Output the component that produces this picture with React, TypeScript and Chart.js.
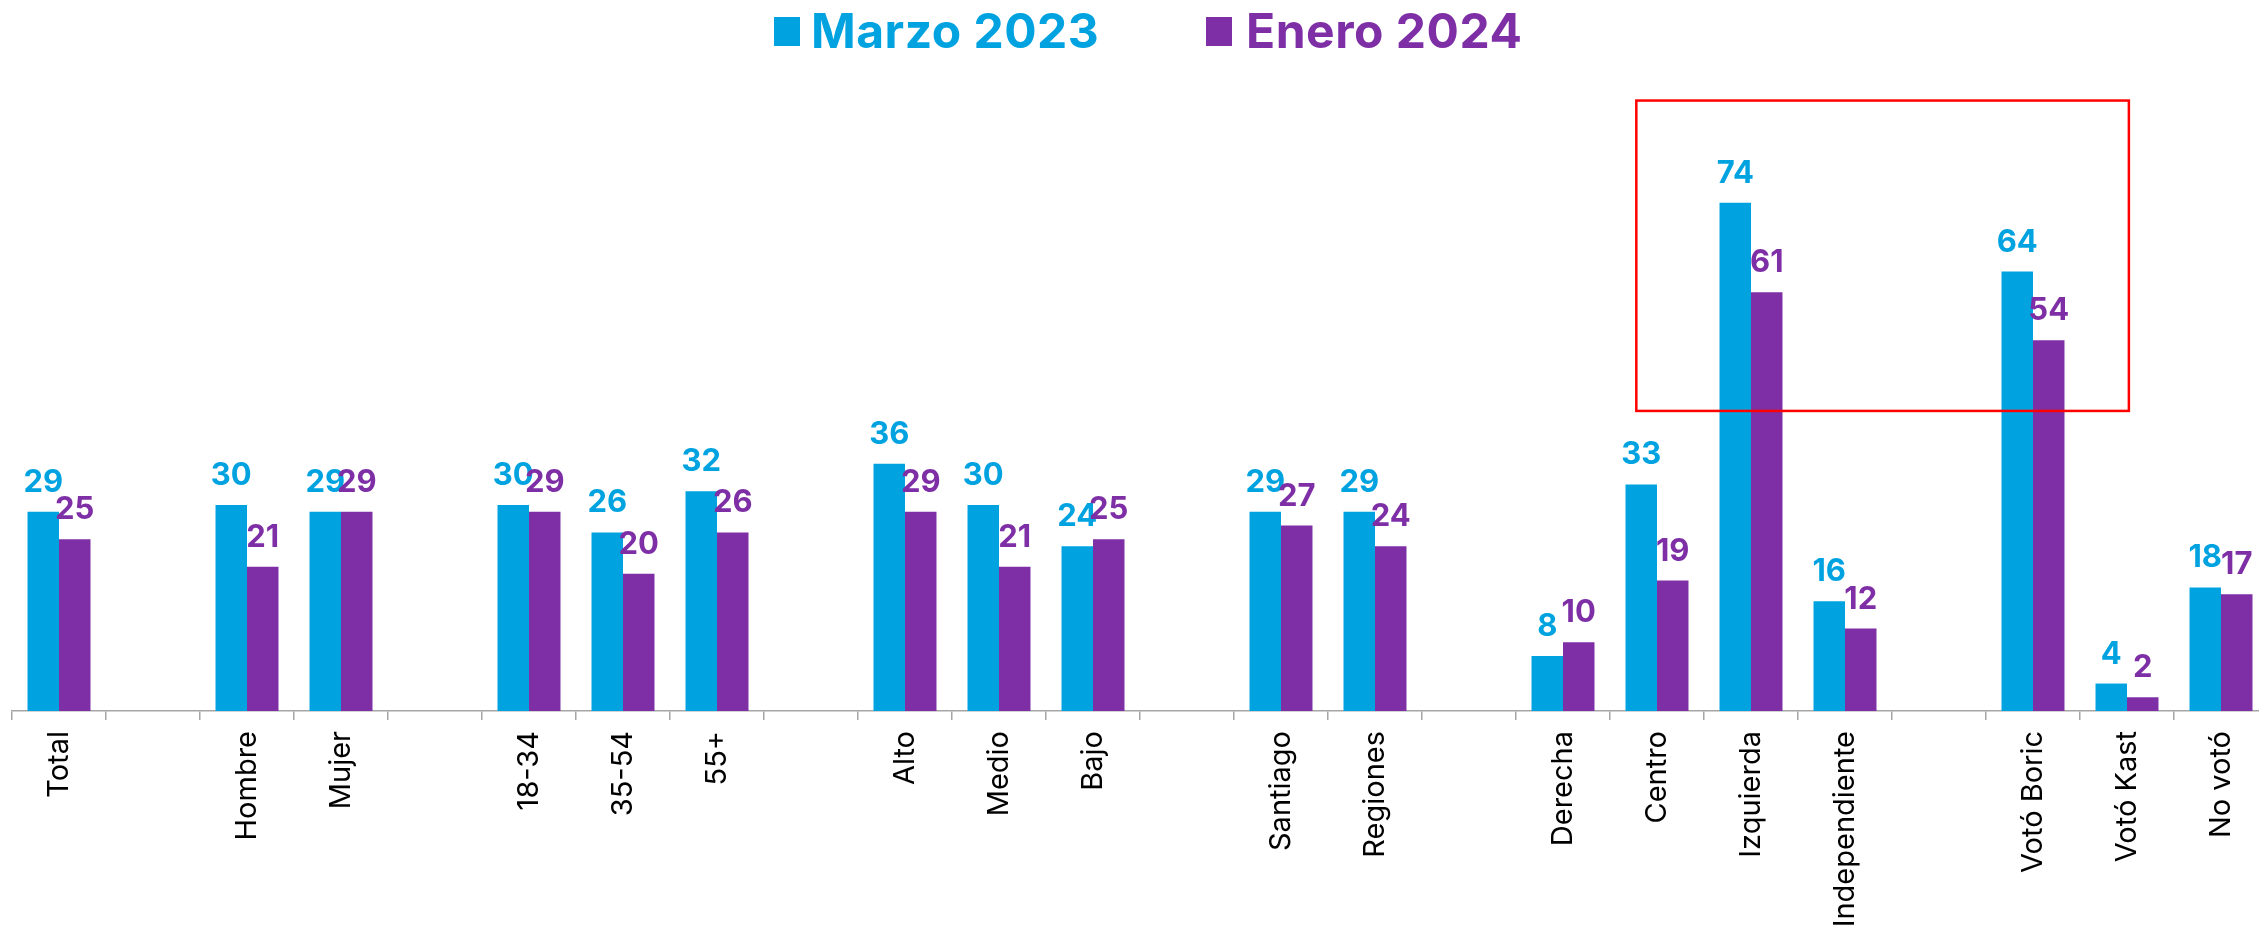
import React, { useEffect, useRef } from "react";
import { Chart, registerables } from "chart.js";

Chart.register(...registerables);

const categories = [
  "Total", "",
  "Hombre", "Mujer", "",
  "18-34", "35-54", "55+", "",
  "Alto", "Medio", "Bajo", "",
  "Santiago", "Regiones", "",
  "Derecha", "Centro", "Izquierda", "Independiente", "",
  "Votó Boric", "Votó Kast", "No votó",
];

const marzo2023 = [29, null, 30, 29, null, 30, 26, 32, null, 36, 30, 24, null, 29, 29, null, 8, 33, 74, 16, null, 64, 4, 18];
const enero2024 = [25, null, 21, 29, null, 29, 20, 26, null, 29, 21, 25, null, 27, 24, null, 10, 19, 61, 12, null, 54, 2, 17];

const seriesNames = ["Marzo 2023", "Enero 2024"];
const seriesColors = ["#00A3E0", "#7E2FA6"];

// highlight box in data coordinates (category index / value)
const highlightIndexRange = [16.78, 22.02];
const highlightValueRange = [43.7, 88.9];

const FONT = "Inter, 'Open Sans', sans-serif";

const valueLabels = {
  id: "valueLabels",
  afterDatasetsDraw(chart: any) {
    const ctx = chart.ctx;
    ctx.save();
    ctx.font = `700 31px ${FONT}`;
    ctx.textAlign = "center";
    ctx.textBaseline = "alphabetic";
    chart.data.datasets.forEach((ds: any, di: number) => {
      const meta = chart.getDatasetMeta(di);
      ctx.fillStyle = ds.backgroundColor;
      meta.data.forEach((bar: any, i: number) => {
        const v = ds.data[i];
        if (v === null || v === undefined) return;
        ctx.fillText(String(v), bar.x, bar.y - 20);
      });
    });
    ctx.restore();
  },
};

const highlightBox = {
  id: "highlightBox",
  afterDatasetsDraw(chart: any) {
    const { ctx, scales } = chart;
    const x1 = scales.x.getPixelForValue(highlightIndexRange[0]);
    const x2 = scales.x.getPixelForValue(highlightIndexRange[1]);
    const y1 = scales.y.getPixelForValue(highlightValueRange[1]);
    const y2 = scales.y.getPixelForValue(highlightValueRange[0]);
    ctx.save();
    ctx.strokeStyle = "#FF0000";
    ctx.lineWidth = 2.5;
    ctx.strokeRect(x1, y1, x2 - x1, y2 - y1);
    ctx.restore();
  },
};

export default function App() {
  const canvasRef = useRef<HTMLCanvasElement | null>(null);

  useEffect(() => {
    if (!canvasRef.current) return;
    const chart = new Chart(canvasRef.current, {
      type: "bar",
      data: {
        labels: categories,
        datasets: [
          {
            label: seriesNames[0],
            data: marzo2023,
            backgroundColor: seriesColors[0],
            borderWidth: 0,
            categoryPercentage: 0.67,
            barPercentage: 1.0,
          },
          {
            label: seriesNames[1],
            data: enero2024,
            backgroundColor: seriesColors[1],
            borderWidth: 0,
            categoryPercentage: 0.67,
            barPercentage: 1.0,
          },
        ],
      },
      options: {
        animation: false,
        responsive: true,
        maintainAspectRatio: false,
        layout: { padding: { top: 93, left: 12, right: 0, bottom: 0 } },
        plugins: {
          legend: { display: false },
          tooltip: { enabled: false },
        },
        scales: {
          x: {
            grid: {
              display: true,
              drawOnChartArea: false,
              drawTicks: true,
              tickLength: 9,
              color: "#A6A6A6",
              lineWidth: 1.5,
              offset: true,
            },
            border: { display: true, color: "#A6A6A6", width: 1.5 },
            ticks: {
              autoSkip: false,
              maxRotation: 90,
              minRotation: 90,
              padding: 11,
              color: "#000000",
              font: { family: FONT, size: 29, weight: "400" },
            },
            afterFit: (scale: any) => {
              scale.height = 226;
            },
          },
          y: {
            display: false,
            min: 0,
            max: 90,
          },
        },
      },
      plugins: [valueLabels, highlightBox],
    } as any);
    return () => chart.destroy();
  }, []);

  const legendText: React.CSSProperties = {
    position: "absolute",
    top: 7,
    fontFamily: FONT,
    fontWeight: 700,
    fontSize: 48,
    lineHeight: "48px",
    letterSpacing: "0.5px",
    whiteSpace: "nowrap",
  };
  const legendBox: React.CSSProperties = {
    position: "absolute",
    top: 17,
    width: 26,
    height: 29,
  };

  return (
    <div style={{ position: "absolute", left: 0, top: 0, width: 2259, height: 937, overflow: "hidden", background: "#fff" }}>
      <div style={{ position: "absolute", left: 0, top: 0, width: 2268, height: 937 }}>
        <canvas ref={canvasRef} />
      </div>
      <div style={{ ...legendBox, left: 774, background: seriesColors[0] }} />
      <div style={{ ...legendText, left: 811, color: seriesColors[0] }}>{seriesNames[0]}</div>
      <div style={{ ...legendBox, left: 1206, background: seriesColors[1] }} />
      <div style={{ ...legendText, left: 1246, color: seriesColors[1] }}>{seriesNames[1]}</div>
    </div>
  );
}
